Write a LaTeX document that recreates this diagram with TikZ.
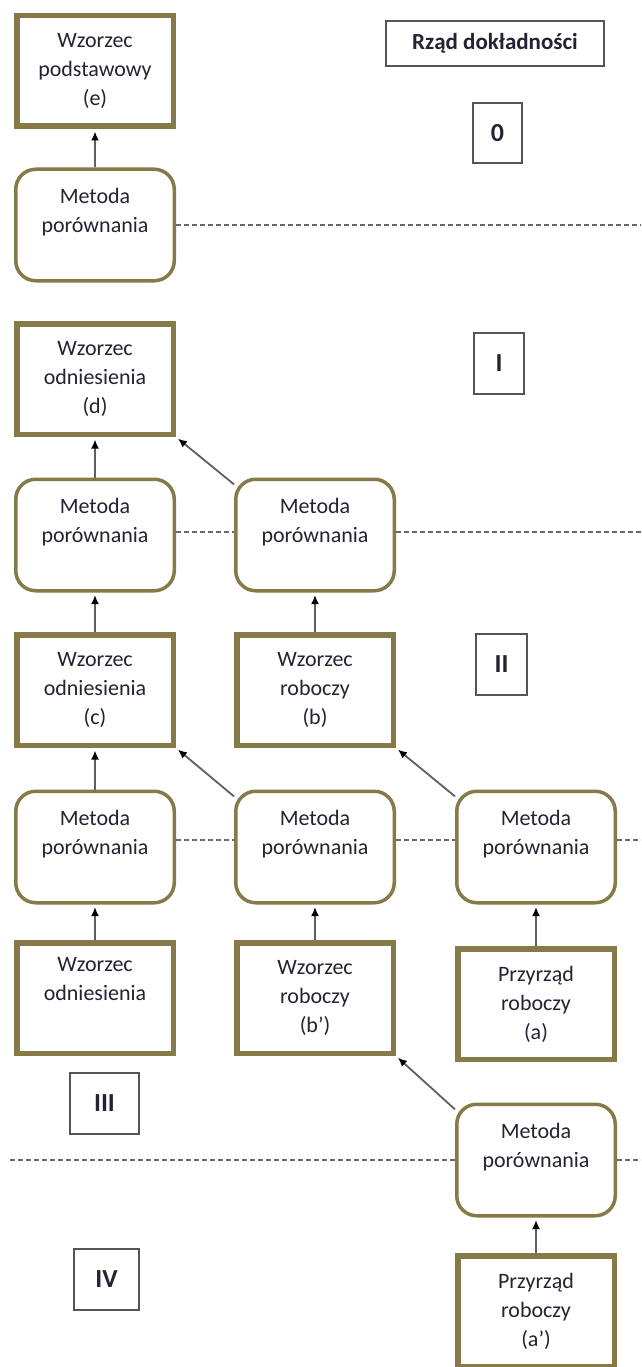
\documentclass[tikz,border=0pt]{standalone}
\usepackage{fontspec}
\setmainfont{Carlito}
\usetikzlibrary{arrows.meta,calc}
\definecolor{olivebox}{RGB}{133,122,72}
\definecolor{arrowgray}{RGB}{95,95,95}
\definecolor{txt}{RGB}{35,35,50}
\definecolor{lblgray}{RGB}{85,85,85}
\definecolor{dashgray}{RGB}{105,105,105}
\begin{document}
\begin{tikzpicture}[x=1pt,y=-1pt,
  stdbox/.style={draw=olivebox, line width=5.5pt, minimum width=156.5pt, minimum height=110.5pt,
    align=center, font=\fontsize{22}{29}\selectfont, text=txt, inner sep=0pt, fill=white},
  method/.style={draw=olivebox, line width=3.5pt, rounded corners=20pt, minimum width=158.5pt,
    minimum height=111.5pt, align=center, font=\fontsize{22}{29}\selectfont, text=txt, inner sep=0pt, fill=white},
  lbl/.style={draw=lblgray, line width=2pt, align=center, inner sep=0pt,
    font=\bfseries\fontsize{26}{30}\selectfont, text=txt},
  arr/.style={draw=arrowgray, line width=1.8pt, shorten >=2.5pt,
    -{Latex[length=9pt,width=8pt,color=black]}},
  levelline/.style={draw=dashgray, line width=1.6pt, dash pattern=on 5pt off 3pt}
]
\useasboundingbox (0,0) rectangle (641,1367);
\fill[white] (0,0) rectangle (641,1367);
\coordinate (redge) at (641,0);
\coordinate (ledge) at (10,0);

% column 1
\node[stdbox] (e) at (95,71) {Wzorzec\\podstawowy\\(e)};
\node[method] (m1) at (95,225) {Metoda\\porównania\\[-8pt]\strut};
\node[stdbox] (d) at (95,379) {Wzorzec\\odniesienia\\(d)};
\node[method] (m2a) at (95,535) {Metoda\\porównania\\[-8pt]\strut};
\node[stdbox] (c) at (95,690) {Wzorzec\\odniesienia\\(c)};
\node[method] (m3a) at (95,847) {Metoda\\porównania\\[-8pt]\strut};
\node[stdbox] (wo) at (95,998) {Wzorzec\\odniesienia\\\strut};

% column 2
\node[method] (m2b) at (315,535) {Metoda\\porównania\\[-8pt]\strut};
\node[stdbox] (b) at (315,690) {Wzorzec\\roboczy\\(b)};
\node[method] (m3b) at (315,847) {Metoda\\porównania\\[-8pt]\strut};
\node[stdbox] (bp) at (315,998) {Wzorzec\\roboczy\\(b’)};

% column 3
\node[method] (m3c) at (536,847) {Metoda\\porównania\\[-8pt]\strut};
\node[stdbox] (a) at (536,1004) {Przyrząd\\roboczy\\(a)};
\node[method] (m4) at (536,1160) {Metoda\\porównania\\[-8pt]\strut};
\node[stdbox] (ap) at (536,1311) {Przyrząd\\roboczy\\(a’)};

% labels
\node[lbl, minimum width=218pt, minimum height=45pt, font=\bfseries\fontsize{23}{28}\selectfont] (rz) at (495,43.5) {Rząd dokładności};
\node[lbl, minimum width=49pt, minimum height=60pt] (l0) at (497.5,133) {0};
\node[lbl, minimum width=50pt, minimum height=61pt] (l1) at (499,363.5) {I};
\node[lbl, minimum width=51pt, minimum height=61pt] (l2) at (501.5,664.5) {II};
\node[lbl, minimum width=69pt, minimum height=61pt] (l3) at (104.5,1103.5) {III};
\node[lbl, minimum width=65pt, minimum height=61pt] (l4) at (106.5,1279.5) {IV};

% level lines
\draw[levelline] (m1.east) -- (m1.east -| redge);
\draw[levelline] (m2a.2) -- (m2b.178);
\draw[levelline] (m2b.2) -- (m2b.2 -| redge);
\draw[levelline] (m3a.5) -- (m3b.175);
\draw[levelline] (m3b.5) -- (m3c.175);
\draw[levelline] (m3c.5) -- (m3c.5 -| redge);
\draw[levelline] (m4.west -| ledge) -- (m4.west);
\draw[levelline] (m4.east) -- (m4.east -| redge);

% arrows
\draw[arr] (m1.north) -- (e.south);
\draw[arr] (m2a.north) -- (d.south);
\draw[arr] (m2b.148) -- (d.south east);
\draw[arr] (c.north) -- (m2a.south);
\draw[arr] (b.north) -- (m2b.south);
\draw[arr] (m3a.north) -- (c.south);
\draw[arr] (m3b.148) -- (c.south east);
\draw[arr] (m3c.148) -- (b.south east);
\draw[arr] (wo.north) -- (m3a.south);
\draw[arr] (bp.north) -- (m3b.south);
\draw[arr] (a.north) -- (m3c.south);
\draw[arr] (m4.148) -- (bp.south east);
\draw[arr] (ap.north) -- (m4.south);
\end{tikzpicture}
\end{document}
